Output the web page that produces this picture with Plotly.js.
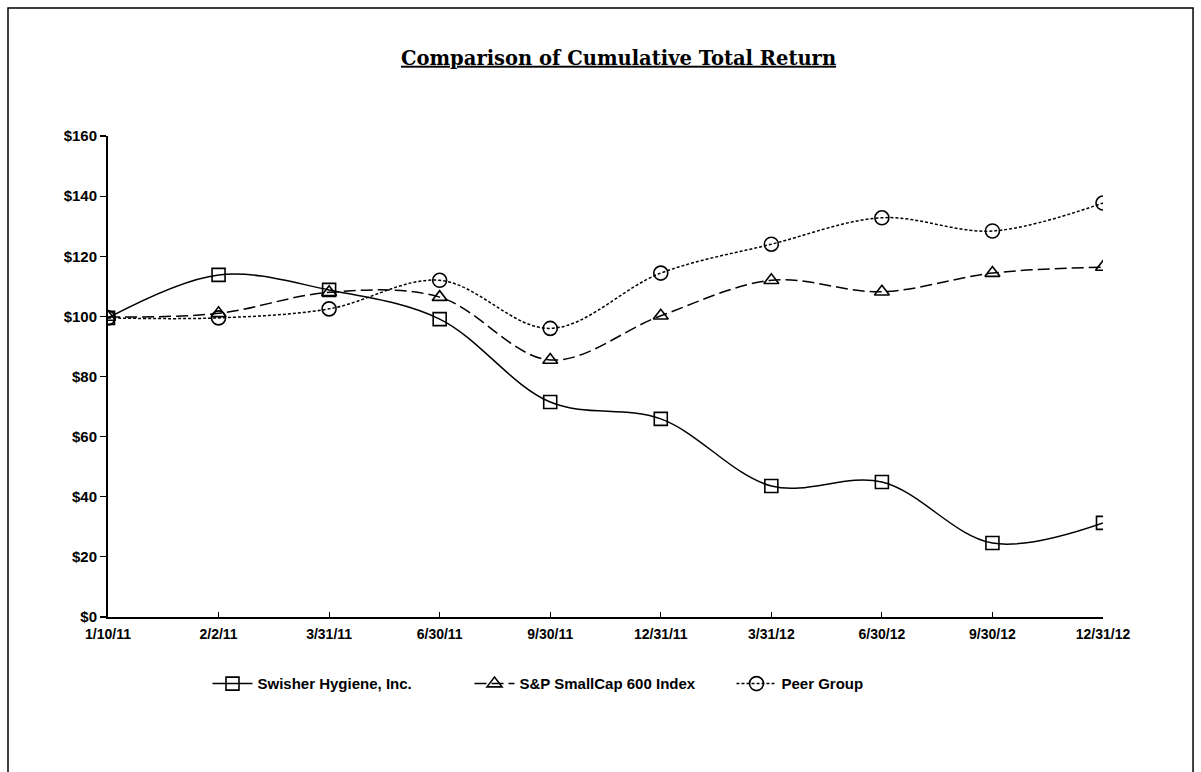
<!DOCTYPE html>
<html>
<head>
<meta charset="utf-8">
<script src="https://cdn.plot.ly/plotly-3.0.1.min.js"></script>
<style>html,body{margin:0;padding:0;background:#fff;}#chart{width:1201px;height:772px;}</style>
</head>
<body>
<div id="chart"></div>
<script>
const categories = ["1/10/11","2/2/11","3/31/11","6/30/11","9/30/11","12/31/11","3/31/12","6/30/12","9/30/12","12/31/12"];
const swisher = [99.5, 113.8, 108.8, 99.1, 71.5, 65.9, 43.6, 44.9, 24.6, 31.3];
const sp600   = [99.8, 101.0, 108.0, 106.4, 85.5, 100.2, 112.0, 108.2, 114.4, 116.4];
const peer    = [99.5, 99.5, 102.5, 112.0, 96.0, 114.4, 124.0, 132.8, 128.4, 137.7];
const seriesNames = ["Swisher Hygiene, Inc.", "S&P SmallCap 600 Index", "Peer Group"];
const yTickVals = [0, 20, 40, 60, 80, 100, 120, 140, 160];
const yTickLabels = ["$0","$20","$40","$60","$80","$100","$120","$140","$160"];

const lineBase = {type: "scatter", mode: "lines+markers", x: categories, line: {color: "#000", width: 1.5, shape: "spline", smoothing: 1}};
const traces = [
  Object.assign({}, lineBase, {name: seriesNames[0], y: swisher,
    line: Object.assign({}, lineBase.line, {dash: "solid"}),
    marker: {symbol: "square", size: 13, color: "rgba(255,255,255,0)", line: {color: "#000", width: 1.6}}}),
  Object.assign({}, lineBase, {name: seriesNames[1], y: sp600,
    line: Object.assign({}, lineBase.line, {dash: "12px,5px"}),
    marker: {symbol: "triangle-up", size: 13, color: "rgba(255,255,255,0)", line: {color: "#000", width: 1.6}}}),
  Object.assign({}, lineBase, {name: seriesNames[2], y: peer,
    line: Object.assign({}, lineBase.line, {dash: "3px,2px"}),
    marker: {symbol: "circle", size: 14, color: "rgba(255,255,255,0)", line: {color: "#000", width: 1.6}}})
];

const tickFont = {family: "Liberation Sans, Arial, sans-serif", size: 14, color: "#000", weight: "bold"};
const yTickFont = Object.assign({}, tickFont, {size: 15});
const legendFont = Object.assign({}, tickFont, {size: 15});
const layout = {
  width: 1201, height: 772,
  margin: {l: 108, r: 98, t: 136, b: 155},
  paper_bgcolor: "#fff", plot_bgcolor: "#fff",
  showlegend: true,
  title: {text: "<u>Comparison of Cumulative Total Return</u>", x: 0.515, xanchor: "center", y: 0.925, yanchor: "middle",
    font: {family: "DejaVu Serif, Liberation Serif, serif", size: 19.5, color: "#000", weight: "bold"}},
  xaxis: {type: "category", range: [0, 9], showgrid: false, zeroline: false, showline: true, linecolor: "#000", linewidth: 1.5,
    ticks: "inside", ticklen: 5, tickcolor: "#000", tickwidth: 1.2, tickfont: tickFont, ticklabelstandoff: 4, fixedrange: true},
  yaxis: {range: [0, 160], tickvals: yTickVals, ticktext: yTickLabels, showgrid: false, zeroline: false, showline: true,
    linecolor: "#000", linewidth: 2, ticks: "outside", ticklen: 6, tickcolor: "#000", tickwidth: 1.2, tickfont: yTickFont, fixedrange: true},
  legend: {orientation: "h", x: 0.1, xanchor: "left", y: -0.139, yanchor: "middle", font: legendFont,
    entrywidth: 207, entrywidthmode: "pixels", itemwidth: 40, bgcolor: "rgba(0,0,0,0)"},
  shapes: [{type: "rect", xref: "paper", yref: "paper", x0: -0.1005, x1: 1.0905, y0: -0.45, y1: 1.266,
    line: {color: "#000", width: 1.5}, fillcolor: "rgba(0,0,0,0)", layer: "below"}]
};
Plotly.newPlot("chart", traces, layout, {displayModeBar: false, staticPlot: true});
</script>
</body>
</html>
